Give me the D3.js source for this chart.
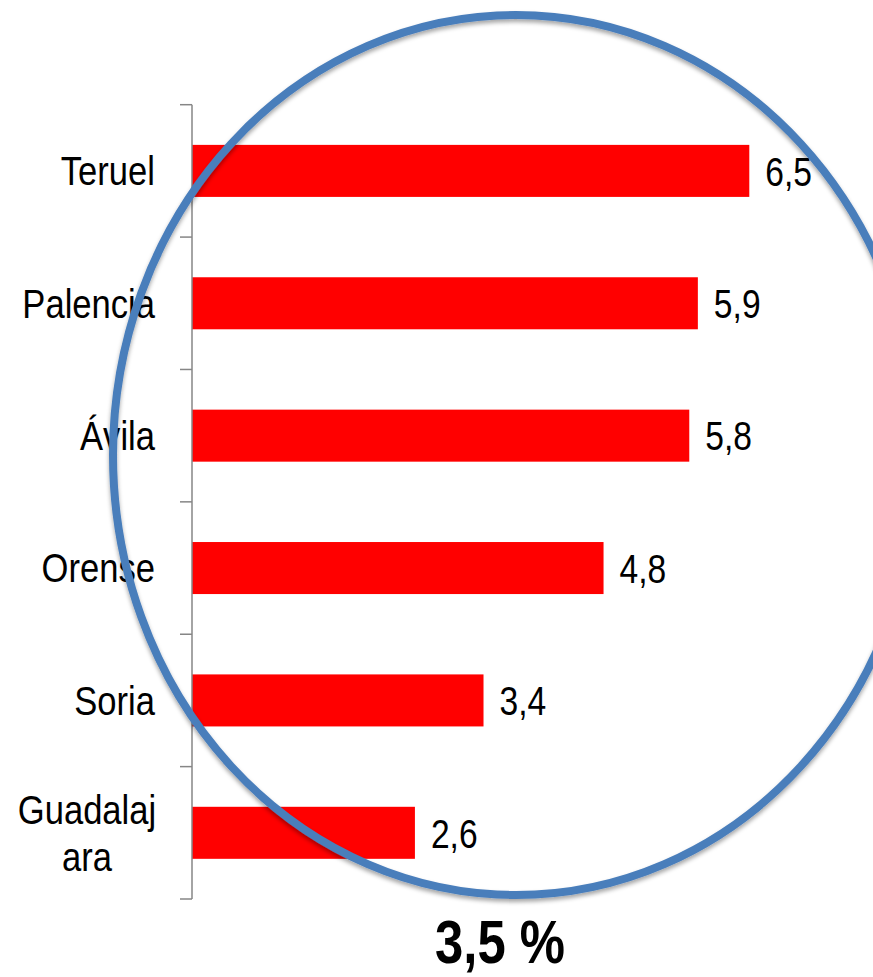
<!DOCTYPE html>
<html>
<head>
<meta charset="utf-8">
<script src="https://cdn.jsdelivr.net/npm/d3@7"></script>
<style>
  html, body { margin: 0; padding: 0; background: #ffffff; }
  svg { display: block; }
  text { font-family: "Liberation Sans", Arial, sans-serif; fill: #000; }
</style>
</head>
<body>
<svg id="chart" width="873" height="977"></svg>
<script>
// Provinces and their values (%)
const provinces = ["Teruel", "Palencia", "Ávila", "Orense", "Soria", "Guadalajara"];
const provinceLines = [["Teruel"], ["Palencia"], ["Ávila"], ["Orense"], ["Soria"], ["Guadalaj", "ara"]];
const values = [6.5, 5.9, 5.8, 4.8, 3.4, 2.6];
const headline = "3,5 %";

(function draw() {
  const svg = d3.select("#chart");
  const narrow = 0.82;      // horizontal squeeze for a condensed face
  const narrowCat = 0.865;  // category labels run a little wider

  const esLocale = d3.formatLocale({ decimal: ",", thousands: ".", grouping: [3], currency: ["", " €"] });
  const fmt = esLocale.format(".1f");

  const x = d3.scaleLinear().domain([0, 6.5]).range([192, 749.3]);
  const y = d3.scaleBand().domain(provinces).range([104.7, 899])
    .paddingInner(0.607).paddingOuter(0.3035);

  // drop shadow for the ring
  const defs = svg.append("defs");
  const f = defs.append("filter").attr("id", "shadow")
    .attr("x", "-10%").attr("y", "-10%").attr("width", "120%").attr("height", "120%");
  f.append("feDropShadow").attr("dx", 0).attr("dy", 3).attr("stdDeviation", 2)
    .attr("flood-color", "#000").attr("flood-opacity", 0.35);

  // bars
  svg.append("g").selectAll("rect").data(provinces).join("rect")
    .attr("x", x(0))
    .attr("y", d => y(d))
    .attr("width", (d, i) => x(values[i]) - x(0))
    .attr("height", y.bandwidth())
    .attr("fill", "#ff0000");

  // category axis: line with ticks at band boundaries
  const axisG = svg.append("g");
  const yTop = y.range()[0], yBottom = y.range()[1];
  axisG.append("line")
    .attr("x1", x(0)).attr("x2", x(0)).attr("y1", yTop).attr("y2", yBottom)
    .attr("stroke", "#868686").attr("stroke-width", 1.5);
  const bounds = d3.range(provinces.length + 1).map(i => yTop + i * y.step());
  axisG.selectAll("line.tick").data(bounds).join("line").attr("class", "tick")
    .attr("x1", x(0) - 12).attr("x2", x(0)).attr("y1", d => d).attr("y2", d => d)
    .attr("stroke", "#868686").attr("stroke-width", 1.5);

  // category labels
  const fs = 40;
  const labG = svg.append("g");
  provinces.forEach((p, i) => {
    const lines = provinceLines[i];
    const cy = y(p) + y.bandwidth() / 2;
    const lh = 47;
    if (lines.length === 1) {
      labG.append("g").attr("transform", `translate(155,${cy}) scale(${narrowCat},1)`)
        .append("text").attr("text-anchor", "end").attr("font-size", fs)
        .attr("dy", "0.36em").text(lines[0]);
    } else {
      const g = labG.append("g").attr("transform", `translate(87,${cy}) scale(${narrowCat},1)`);
      lines.forEach((l, k) => g.append("text").attr("font-size", fs)
        .attr("text-anchor", "middle")
        .attr("y", (k - (lines.length - 1) / 2) * lh)
        .attr("dy", "0.36em").text(l));
    }
  });

  // value labels
  svg.append("g").selectAll("g").data(provinces).join("g")
    .attr("transform", (d, i) => `translate(${x(values[i]) + 16},${y(d) + y.bandwidth() / 2}) scale(${narrow},1)`)
    .append("text").attr("font-size", 41).attr("dy", "0.36em")
    .text((d, i) => fmt(values[i]));

  // ring highlighting the group
  svg.append("ellipse")
    .attr("cx", 516).attr("cy", 455).attr("rx", 403).attr("ry", 440)
    .attr("fill", "none").attr("stroke", "#4a7ebb").attr("stroke-width", 8)
    .attr("filter", "url(#shadow)");

  // headline value
  svg.append("g").attr("transform", `translate(500,963) scale(${narrow},1)`)
    .append("text").attr("text-anchor", "middle").attr("font-size", 62)
    .attr("font-weight", "bold").text(headline);
})();
</script>
</body>
</html>
